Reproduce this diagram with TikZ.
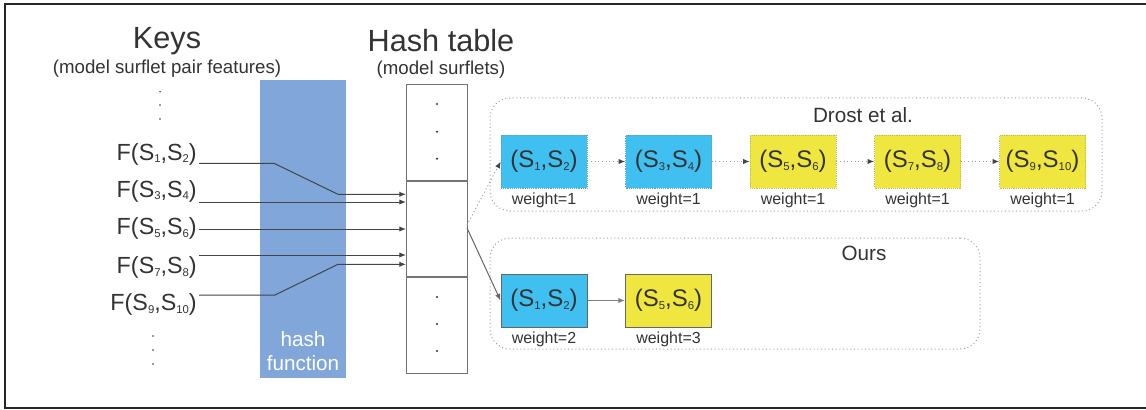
\documentclass[tikz,border=0pt]{standalone}
\usepackage{fontspec}
\setmainfont{Liberation Sans}
\usetikzlibrary{arrows.meta}
\definecolor{txt}{HTML}{333333}
\definecolor{hashblue}{HTML}{80A6DA}
\definecolor{cyanbox}{HTML}{40C0F0}
\definecolor{yellowbox}{HTML}{F0E640}
\definecolor{linegray}{HTML}{444444}
\definecolor{dotgray}{HTML}{A0A0A0}
\newcommand\lowsub[1]{\raisebox{-2.2pt}{\fontsize{8.5}{9}\selectfont #1}}
\begin{document}
\begin{tikzpicture}[x=0.75pt,y=-0.75pt,
  every node/.style={text=txt, inner sep=0pt},
  title/.style={font=\fontsize{23}{26}\selectfont},
  subtitle/.style={font=\fontsize{14}{16}\selectfont},
  keylabel/.style={font=\fontsize{17.5}{20}\selectfont, anchor=east},
  pairbox/.style={minimum width=64.5pt, minimum height=39.75pt, font=\fontsize{18}{20}\selectfont},
  drostcyan/.style={pairbox, fill=cyanbox, draw=cyanbox!60!gray, densely dotted},
  drostyellow/.style={pairbox, fill=yellowbox, draw=yellowbox!60!gray, densely dotted},
  ourcyan/.style={pairbox, fill=cyanbox, draw=gray!80!black, line width=0.75pt},
  ouryellow/.style={pairbox, fill=yellowbox, draw=gray!80!black, line width=0.75pt},
  weightlabel/.style={font=\fontsize{12}{14}\selectfont, anchor=north},
  grouplabel/.style={font=\fontsize{15.5}{18}\selectfont},
  groupbox/.style={draw=dotgray, dotted, line width=0.75pt, rounded corners=15pt},
  cell/.style={draw=gray!90!black, line width=0.75pt, minimum width=45.75pt, fill=white},
  link/.style={draw=linegray, line width=0.75pt, -{Latex[length=5pt,width=4pt]}},
  dlink/.style={draw=dotgray, dotted, line width=0.75pt, -{Latex[length=5pt,width=4pt,color=linegray]}},
]
\useasboundingbox (0,0) rectangle (1146,410);
% outer frame
\draw[line width=1pt, draw=black!85] (1160,4) -- (5,4) -- (5,408) -- (1160,408);

% titles
\node[title] (keys) at (167,41) {Keys};
\node[subtitle] (keyssub) at (167,69) {(model surflet pair features)};
\node[title] (htab) at (441,41) {Hash table};
\node[subtitle] (htabsub) at (441,69.5) {(model surflets)};

% hash function
\node[fill=hashblue, minimum width=64.5pt, minimum height=223.5pt] (hashf) at (303,229) {};
\node[font=\fontsize{15.5}{18}\selectfont, text=white] (hashtxt1) at (303,339) {hash};
\node[font=\fontsize{15.5}{18}\selectfont, text=white] (hashtxt2) at (303,363) {function};

% key dots
\foreach \yy in {91.7,105,119} \fill[txt] (160,\yy) circle (0.8);
\foreach \yy in {336,350,364} \fill[txt] (153,\yy) circle (0.8);

% key labels
\node[keylabel] (f1) at (197,154) {F(S\lowsub{1},S\lowsub{2})};
\node[keylabel] (f2) at (197,191) {F(S\lowsub{3},S\lowsub{4})};
\node[keylabel] (f3) at (197,228.5) {F(S\lowsub{5},S\lowsub{6})};
\node[keylabel] (f4) at (197,267.5) {F(S\lowsub{7},S\lowsub{8})};
\node[keylabel] (f5) at (197,304.5) {F(S\lowsub{9},S\lowsub{10})};

% hash table cells
\node[cell, minimum height=72pt, anchor=north west] (top) at (406,84) {};
\node[cell, minimum height=71.25pt, anchor=north] (mid) at (top.south) {};
\node[cell, minimum height=72pt, anchor=north] (bot) at (mid.south) {};
\foreach \yy in {104,131.7,158.7} \fill[txt] (437,\yy) circle (1.2);
\foreach \yy in {297,324,351} \fill[txt] (437,\yy) circle (1.2);

% key connectors
\coordinate (s1) at (199,163.3);
\coordinate (b1) at (274,163.3);
\coordinate (c1) at (338,194.3);
\coordinate (s2) at (199,202);
\coordinate (s3) at (199,229);
\coordinate (s4) at (199,255);
\coordinate (s5) at (199,295);
\coordinate (b5) at (275,295);
\coordinate (c5) at (338,264.3);
\draw[link] (s1) -- (b1) -- (c1) -- (mid.west |- c1);
\draw[link] (s2) -- (mid.west |- s2);
\draw[link] (s3) -- (mid.west |- s3);
\draw[link] (s4) -- (mid.west |- s4);
\draw[link] (s5) -- (b5) -- (c5) -- (mid.west |- c5);

% Drost group
\node[groupbox, minimum width=459pt, minimum height=84.75pt] (drost) at (796,154.5) {};
\node[grouplabel] (drostlbl) at (863,115) {Drost et al.};
\node[drostcyan] (d1) at (544,161.5) {(S\lowsub{1},S\lowsub{2})};
\node[drostcyan] (d2) at (668.5,161.5) {(S\lowsub{3},S\lowsub{4})};
\node[drostyellow] (d3) at (793,161.5) {(S\lowsub{5},S\lowsub{6})};
\node[drostyellow] (d4) at (917.5,161.5) {(S\lowsub{7},S\lowsub{8})};
\node[drostyellow] (d5) at (1042.5,161.5) {(S\lowsub{9},S\lowsub{10})};
\foreach \i in {1,...,5} \node[weightlabel] (dw\i) at ([yshift=-3pt]d\i.south) {weight=1};
\draw[dlink] (d1) -- (d2);
\draw[dlink] (d2) -- (d3);
\draw[dlink] (d3) -- (d4);
\draw[dlink] (d4) -- (d5);

% Ours group
\node[groupbox, minimum width=367.5pt, minimum height=83.25pt] (ours) at (735,293.5) {};
\node[grouplabel] (ourslbl) at (864,253) {Ours};
\node[ourcyan] (o1) at (544,300.5) {(S\lowsub{1},S\lowsub{2})};
\node[ouryellow] (o2) at (668.5,300.5) {(S\lowsub{5},S\lowsub{6})};
\node[weightlabel] (ow1) at ([yshift=-3pt]o1.south) {weight=2};
\node[weightlabel] (ow2) at ([yshift=-3pt]o2.south) {weight=3};
\draw[link, draw=gray] (o1) -- (o2);

% table to lists
\coordinate (t1) at (467,225);
\coordinate (t2) at (467,228);
\draw[dlink] (t1) -- (d1.west);
\draw[link, draw=gray!80!black] (t2) -- (o1.west);
\end{tikzpicture}
\end{document}
